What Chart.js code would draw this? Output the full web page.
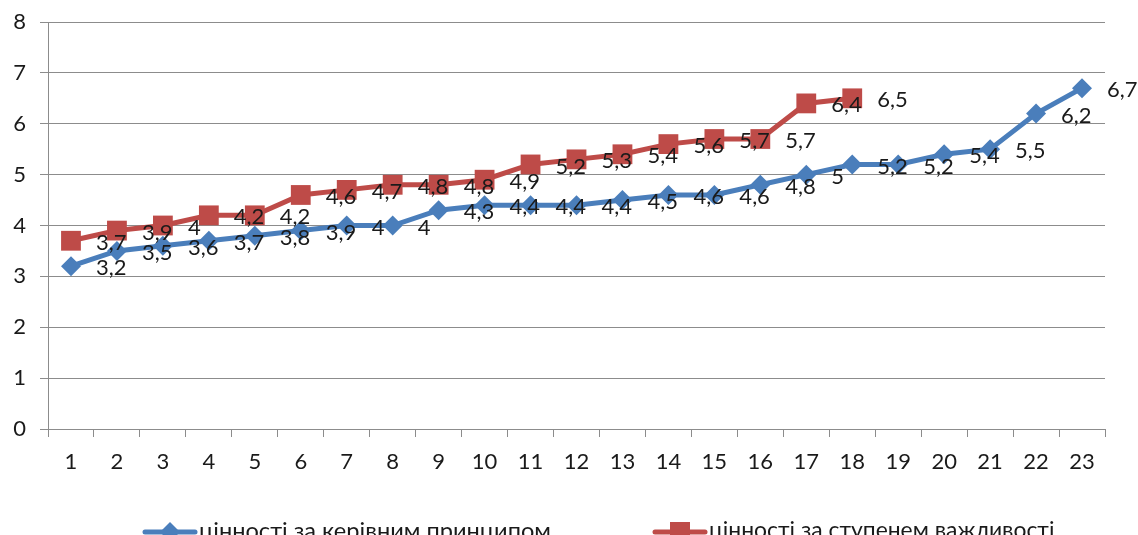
<!DOCTYPE html>
<html>
<head>
<meta charset="utf-8">
<script src="https://cdn.jsdelivr.net/npm/chart.js@4/dist/chart.umd.min.js"></script>
<style>
  html, body { margin: 0; padding: 0; background: #fff; }
  #wrap { width: 1138px; height: 535px; position: relative; }
</style>
</head>
<body>
<div id="wrap"><canvas id="c"></canvas></div>
<script>
// categories 1..23 along the bottom
const categories = ["1","2","3","4","5","6","7","8","9","10","11","12","13","14","15","16","17","18","19","20","21","22","23"];
// blue: цінності за керівним принципом
const byPrinciple = [3.2, 3.5, 3.6, 3.7, 3.8, 3.9, 4, 4, 4.3, 4.4, 4.4, 4.4, 4.5, 4.6, 4.6, 4.8, 5, 5.2, 5.2, 5.4, 5.5, 6.2, 6.7];
// red: цінності за ступенем важливості (stops at 18)
const byImportance = [3.7, 3.9, 4, 4.2, 4.2, 4.6, 4.7, 4.8, 4.8, 4.9, 5.2, 5.3, 5.4, 5.6, 5.7, 5.7, 6.4, 6.5];
const yTicks = [0, 1, 2, 3, 4, 5, 6, 7, 8];

const BLUE = "#4a7ebb";
const RED = "#be4b48";
const GRID = "#8c8c8c";
const INK = "#1a1a1a";
const FONT = "Lato, 'Open Sans', sans-serif";

// value labels sit to the right of each marker, excel-style, with a decimal comma
const valueLabels = {
  id: "valueLabels",
  afterDatasetsDraw(chart) {
    const g = chart.ctx;
    g.save();
    g.font = `22px ${FONT}`;
    g.fillStyle = INK;
    g.textAlign = "left";
    g.textBaseline = "middle";
    chart.data.datasets.forEach((ds, di) => {
      chart.getDatasetMeta(di).data.forEach((pt, i) => {
        g.fillText(String(ds.data[i]).replace(".", ","), pt.x + 25, pt.y + 2);
      });
    });
    g.restore();
  },
};

// legend drawn by hand: line with the marker in the middle, text stretched to the
// width the original legend takes
const lineLegend = {
  id: "lineLegend",
  afterDraw(chart) {
    const g = chart.ctx;
    const y = 532;
    const items = [
      { x: 145, color: BLUE, shape: "diamond", text: "цінності за керівним принципом", w: 352 },
      { x: 655, color: RED, shape: "square", text: "цінності за ступенем важливості", w: 345 },
    ];
    g.save();
    g.textBaseline = "middle";
    items.forEach((it) => {
      g.strokeStyle = it.color;
      g.lineWidth = 5;
      g.lineCap = "round";
      g.beginPath();
      g.moveTo(it.x, y);
      g.lineTo(it.x + 50, y);
      g.stroke();
      g.fillStyle = it.color;
      const cx = it.x + 25;
      if (it.shape === "diamond") {
        g.beginPath();
        g.moveTo(cx, y - 10); g.lineTo(cx + 10, y); g.lineTo(cx, y + 10); g.lineTo(cx - 10, y);
        g.closePath(); g.fill();
      } else {
        g.fillRect(cx - 10, y - 10, 20, 20);
      }
      g.font = `20px ${FONT}`;
      const size = 20 * it.w / g.measureText(it.text).width;
      g.font = `${size.toFixed(1)}px ${FONT}`;
      g.fillStyle = INK;
      g.textAlign = "left";
      g.fillText(it.text, it.x + 54, y - 1);
    });
    g.restore();
  },
};

new Chart(document.getElementById("c"), {
  type: "line",
  data: {
    labels: categories,
    datasets: [
      {
        label: "цінності за керівним принципом",
        data: byPrinciple,
        borderColor: BLUE,
        backgroundColor: BLUE,
        borderWidth: 5,
        pointStyle: "rectRot",
        pointRadius: 10,
        pointBorderWidth: 0,
        tension: 0,
      },
      {
        label: "цінності за ступенем важливості",
        data: byImportance,
        borderColor: RED,
        backgroundColor: RED,
        borderWidth: 5,
        pointStyle: "rect",
        pointRadius: 14,
        pointBorderWidth: 0,
        tension: 0,
      },
    ],
  },
  options: {
    responsive: true,
    maintainAspectRatio: false,
    animation: false,
    layout: { padding: { top: 22, right: 33, bottom: 50, left: 0 } },
    plugins: { legend: { display: false }, tooltip: { enabled: false } },
    scales: {
      x: {
        offset: true,
        grid: { offset: true, drawOnChartArea: false, drawTicks: true, tickLength: 8, color: GRID },
        border: { color: GRID, width: 1 },
        ticks: { color: INK, font: { family: FONT, size: 22 }, padding: 12, maxRotation: 0, autoSkip: false },
        afterFit: (s) => { s.height = 56; },
      },
      y: {
        min: 0,
        max: 8,
        afterBuildTicks: (s) => { s.ticks = yTicks.map((v) => ({ value: v })); },
        grid: { color: GRID, tickLength: 8, lineWidth: 1 },
        border: { color: GRID, width: 1 },
        ticks: { color: INK, font: { family: FONT, size: 22 }, padding: 14 },
        // the top "8" may hang above the plot, as in the original
        afterFit: (s) => { s.width = 48; s.paddingTop = 0; s.paddingBottom = 0; },
      },
    },
  },
  plugins: [valueLabels, lineLegend],
});
</script>
</body>
</html>
